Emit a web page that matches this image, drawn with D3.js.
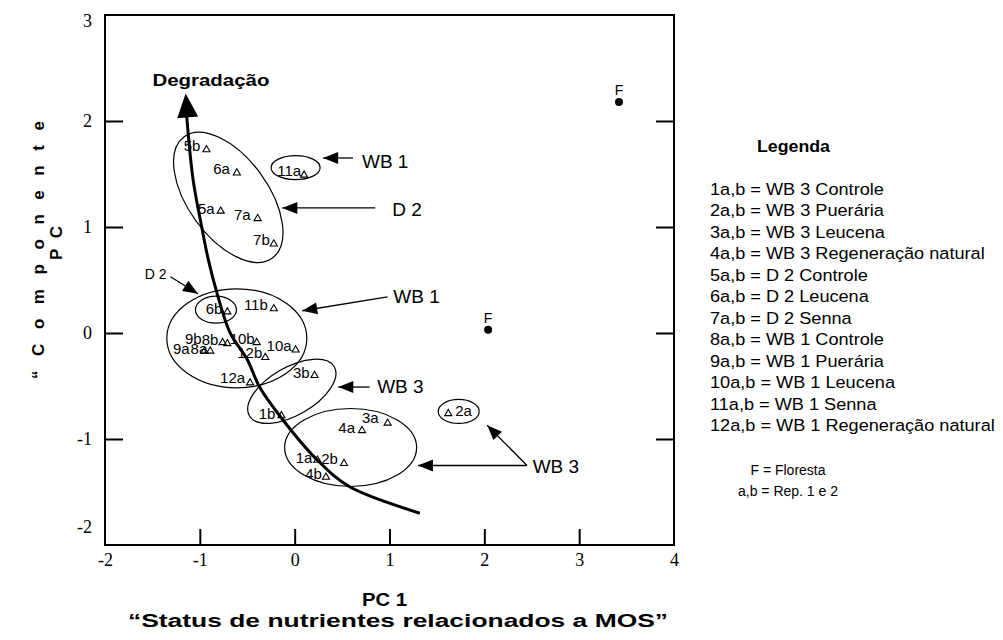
<!DOCTYPE html>
<html lang="pt">
<head>
<meta charset="utf-8">
<title>PCA - Degradação</title>
<script src="https://cdn.jsdelivr.net/npm/d3@7"></script>
<style>
html,body{margin:0;padding:0;background:#fff;}
svg{display:block;}
text{font-family:"Liberation Sans",Arial,sans-serif;fill:#000;}
.tick text{font-family:"Liberation Serif","Times New Roman",serif;font-size:18px;}
</style>
</head>
<body>
<svg id="chart" width="1003" height="640"></svg>
<script>
// ---- dados: escores PC1 / PC2 ----
const sampleIds = ["1a","1b","2a","2b","3a","3b","4a","4b","5a","5b","6a","6b",
                   "7a","7b","8a","8b","9a","9b","10a","10b","11a","11b","12a","12b"];
const pc1 = [0.24,-0.14,1.62,0.52,0.98,0.21,0.71,0.33,-0.78,-0.93,-0.61,-0.71,
             -0.39,-0.22,-0.89,-0.71,-0.95,-0.76,0.01,-0.40,0.10,-0.22,-0.47,-0.31];
const pc2 = [-1.20,-0.78,-0.76,-1.23,-0.85,-0.40,-0.92,-1.36,1.15,1.73,1.51,0.20,
             1.08,0.84,-0.17,-0.10,-0.17,-0.09,-0.16,-0.09,1.49,0.23,-0.47,-0.23];
const forestPc1 = [3.42, 2.04];
const forestPc2 = [2.18, 0.03];

const xTicks = [-2,-1,0,1,2,3,4];
const yTicks = [-2,-1,0,1,2,3];

// trajetória "Degradação" (de baixo para a ponta da seta)
const trendPc1 = [1.32,0.58,0.24,-0.15,-0.37,-0.50,-0.68,-0.82,-0.91,-0.98,-1.07,-1.14];
const trendPc2 = [-1.70,-1.45,-1.20,-0.79,-0.51,-0.25,0.00,0.38,0.69,1.00,1.44,2.06];
const trendTip = [-1.15, 2.26];

const legendItems = [
  "1a,b = WB 3 Controle","2a,b = WB 3 Puerária","3a,b = WB 3 Leucena",
  "4a,b = WB 3 Regeneração natural","5a,b = D 2 Controle","6a,b = D 2 Leucena",
  "7a,b = D 2 Senna","8a,b = WB 1 Controle","9a,b = WB 1 Puerária",
  "10a,b = WB 1 Leucena","11a,b = WB 1 Senna","12a,b = WB 1 Regeneração natural"];
const legendNotes = ["F = Floresta","a,b = Rep. 1 e 2"];

// ---- layout ----
const svg = d3.select('#chart');
const x = d3.scaleLinear().domain([-2,4]).range([105,674]);
const y = d3.scaleLinear().domain([-2,3]).range([545,15]);

// grupos circulados (centro em unidades PC, raios em px)
const rings = [
  {c:[-0.70,1.28], rx:75, ry:40, a:54},
  {c:[0.01,1.56],  rx:24.5, ry:12, a:0},
  {c:[-0.61,-0.05],rx:70, ry:49.5, a:0},
  {c:[-0.83,0.22], rx:20.5, ry:13.5, a:0},
  {c:[-0.03,-0.55],rx:49, ry:24, a:-30},
  {c:[0.59,-1.08], rx:66, ry:39, a:0},
  {c:[1.73,-0.74], rx:20.5, ry:12, a:0}
];
// setas de chamada
const callouts = [
  {t:"WB 1", s:19, at:[0.71,1.56],  arrows:[[[0.615,1.651],[0.30,1.651]]]},
  {t:"D 2",  s:19, at:[1.03,1.10],  arrows:[[[0.85,1.18],[-0.13,1.18]]]},
  {t:"D 2",  s:14, at:[-1.58,0.51], arrows:[[[-1.31,0.53],[-1.02,0.37]]]},
  {t:"WB 1", s:19, at:[1.04,0.28],  arrows:[[[0.98,0.34],[0.08,0.21]]]},
  {t:"WB 3", s:19, at:[0.87,-0.57], arrows:[[[0.79,-0.51],[0.46,-0.51]]]},
  {t:"WB 3", s:19, at:[2.51,-1.32], arrows:[[[2.45,-1.25],[1.30,-1.25]],[[2.45,-1.25],[2.03,-0.87]]]}
];
// deslocamento dos rótulos [dx, dy, âncora]
const nudge = {"1a":[-5,2],"1b":[-6,2],"2a":[7,1,"start"],"2b":[-6,0],"3a":[-9,-1],"3b":[-5,2],
  "4a":[-7,1],"4b":[-4,1],"5a":[-6,2],"5b":[-6,0],"6a":[-7,0],"6b":[-5,1],"7a":[-7,0],"7b":[-4,0],
  "8a":[-3,2],"8b":[-9,0],"9a":[-15,2],"9b":[-21,0],"10a":[-4,0],"10b":[-2,0],"11a":[-3,0],
  "11b":[-6,0],"12a":[-5,-1],"12b":[-3,0]};

function head(g, from, tip, len, hw){
  const dx = tip[0]-from[0], dy = tip[1]-from[1], L = Math.hypot(dx,dy);
  const ux = dx/L, uy = dy/L, bx = tip[0]-ux*len, by = tip[1]-uy*len;
  g.append('path')
   .attr('d',`M${tip[0]},${tip[1]}L${bx-uy*hw},${by+ux*hw}L${bx+uy*hw},${by-ux*hw}Z`)
   .attr('fill','#000');
}

// ---- eixos ----
svg.append('rect').attr('x',x(-2)).attr('y',y(3))
   .attr('width',x(4)-x(-2)).attr('height',y(-2)-y(3))
   .attr('fill','none').attr('stroke','#000').attr('stroke-width',2);

const inner = v => v>-2 && v<3;
const fmt = d => String(d);
const gx = svg.append('g').attr('transform',`translate(0,${y(-2)})`)
  .call(d3.axisBottom(x).tickValues(xTicks).tickFormat(fmt).tickSize(-16).tickPadding(8));
const gy = svg.append('g').attr('transform',`translate(${x(-2)},0)`)
  .call(d3.axisLeft(y).tickValues(yTicks).tickFormat(fmt).tickSize(-18).tickPadding(13));
const gr = svg.append('g').attr('transform',`translate(${x(4)},0)`)
  .call(d3.axisRight(y).tickValues(yTicks.filter(inner)).tickFormat('').tickSize(-18));
[gx,gy,gr].forEach(g=>{
  g.select('.domain').remove();
  g.selectAll('.tick line').attr('stroke','#000').attr('stroke-width',2);
});
gx.selectAll('.tick').filter(d=>d===-2||d===4).select('line').remove();
gy.selectAll('.tick').filter(d=>!inner(d)).select('line').remove();
gy.selectAll('.tick').filter(d=>d===-2).select('text').attr('dy','-0.7em');
gy.selectAll('.tick').filter(d=>d===3).select('text').attr('dy','0.62em');

// ---- elipses ----
svg.append('g').selectAll('ellipse').data(rings).join('ellipse')
  .attr('transform',d=>`translate(${x(d.c[0])},${y(d.c[1])}) rotate(${d.a})`)
  .attr('rx',d=>d.rx).attr('ry',d=>d.ry)
  .attr('fill','none').attr('stroke','#000').attr('stroke-width',1.2);

// ---- curva de degradação ----
const trend = trendPc1.map((v,i)=>[x(v),y(trendPc2[i])]);
svg.append('path').attr('d',d3.line().curve(d3.curveCatmullRom.alpha(0.5))(trend))
  .attr('fill','none').attr('stroke','#000').attr('stroke-width',3);
head(svg, trend[trend.length-2], [x(trendTip[0]),y(trendTip[1])], 24, 10.5);
svg.append('text').attr('x',x(-1.50)).attr('y',y(2.33))
  .attr('font-size',16).attr('font-weight','bold')
  .attr('textLength',117).attr('lengthAdjust','spacingAndGlyphs').text('Degradação');

// ---- pontos ----
const pts = sampleIds.map((id,i)=>({id, px:x(pc1[i]), py:y(pc2[i])}));
const gp = svg.append('g');
gp.selectAll('path').data(pts).join('path')
  .attr('d',d3.symbol(d3.symbolTriangle,22))
  .attr('transform',d=>`translate(${d.px},${d.py})`)
  .attr('fill','none').attr('stroke','#000').attr('stroke-width',1.1);
gp.selectAll('text').data(pts).join('text')
  .attr('x',d=>d.px+nudge[d.id][0]).attr('y',d=>d.py+nudge[d.id][1]+1)
  .attr('text-anchor',d=>nudge[d.id][2]||'end')
  .attr('font-size',15).text(d=>d.id);

const forest = forestPc1.map((v,i)=>({px:x(v), py:y(forestPc2[i])}));
svg.append('g').selectAll('circle').data(forest).join('circle')
  .attr('cx',d=>d.px).attr('cy',d=>d.py).attr('r',4).attr('fill','#000');
svg.append('g').selectAll('text').data(forest).join('text')
  .attr('x',d=>d.px).attr('y',d=>d.py-7).attr('text-anchor','middle')
  .attr('font-size',14).text('F');

// ---- chamadas ----
const gc = svg.append('g');
callouts.forEach(c=>{
  gc.append('text').attr('x',x(c.at[0])).attr('y',y(c.at[1]))
    .attr('font-size',c.s).text(c.t);
  c.arrows.forEach(([f,t])=>{
    const a=[x(f[0]),y(f[1])], b=[x(t[0]),y(t[1])];
    gc.append('line').attr('x1',a[0]).attr('y1',a[1]).attr('x2',b[0]).attr('y2',b[1])
      .attr('stroke','#000').attr('stroke-width',1.3);
    head(gc, a, b, 15, 6);
  });
});

// ---- títulos dos eixos ----
svg.append('text').attr('transform','translate(44,250) rotate(-90)')
  .attr('text-anchor','middle').attr('font-size',17).attr('font-weight','bold')
  .attr('textLength',258).attr('lengthAdjust','spacing').text('“ C o m p o n e n t e');
svg.append('text').attr('transform','translate(62,243) rotate(-90)')
  .attr('text-anchor','middle').attr('font-size',17).attr('font-weight','bold')
  .attr('textLength',34).attr('lengthAdjust','spacing').text('PC');
svg.append('text').attr('x',362).attr('y',606)
  .attr('font-size',18).attr('font-weight','bold')
  .attr('textLength',45).attr('lengthAdjust','spacingAndGlyphs').text('PC 1');
svg.append('text').attr('x',128).attr('y',627)
  .attr('font-size',18).attr('font-weight','bold')
  .attr('textLength',540).attr('lengthAdjust','spacingAndGlyphs')
  .text('“Status de nutrientes relacionados a MOS”');

// ---- legenda ----
svg.append('text').attr('x',757).attr('y',152).attr('font-size',16).attr('font-weight','bold')
  .attr('textLength',73).attr('lengthAdjust','spacingAndGlyphs').text('Legenda');
const gl = svg.append('g').attr('transform','translate(710,0) scale(1.1,1)');
gl.selectAll('text').data(legendItems).join('text')
  .attr('x',0).attr('y',(d,i)=>195+i*21.5).attr('font-size',16.5).text(d=>d);
svg.append('g').selectAll('text').data(legendNotes).join('text')
  .attr('x',788).attr('y',(d,i)=>475+i*21).attr('text-anchor','middle')
  .attr('font-size',14).text(d=>d);
</script>
</body>
</html>
